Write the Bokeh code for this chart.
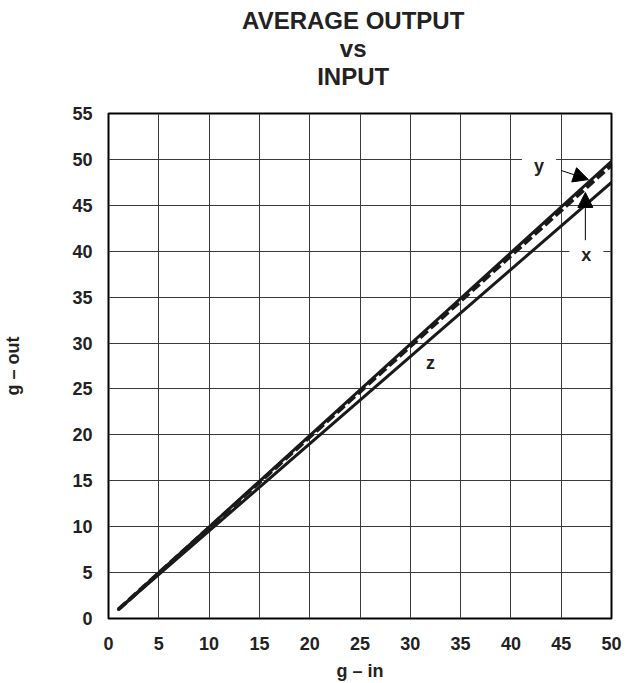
from bokeh.plotting import figure
from bokeh.layouts import column
from bokeh.models import Range1d, Label, Arrow, NormalHead, FixedTicker
from bokeh.core.properties import value
from bokeh.embed import file_html
from bokeh.resources import INLINE

# data (g - in vs g - out)
g_in = [1, 50]
out_x = [1, 49.8]
out_y = [1, 49.4]
out_z = [1, 47.5]
x_ticks = [0, 5, 10, 15, 20, 25, 30, 35, 40, 45, 50]
y_ticks = [0, 5, 10, 15, 20, 25, 30, 35, 40, 45, 50, 55]
title_lines = ["AVERAGE OUTPUT", "vs", "INPUT"]

FONT = "Liberation Sans"
TXT = "#222222"
W = 629
TOP_H = 98

# ---- title strip (pixel coordinates, y downward) ----
t = figure(width=W, height=TOP_H, output_backend="svg", toolbar_location=None,
           x_range=Range1d(0, W), y_range=Range1d(TOP_H, 0),
           x_axis_location=None, y_axis_location=None, min_border=0)
t.grid.visible = False
t.outline_line_color = None
t.background_fill_color = "white"
t.border_fill_color = "white"
t.text(x=[306] * 3, y=[20, 48, 76], text=title_lines, text_font=value(FONT),
       text_font_style="bold", text_font_size="24px", text_color=TXT,
       text_align="center", text_baseline="middle")

# ---- main chart ----
p = figure(width=W, height=683 - TOP_H, output_backend="svg", toolbar_location=None,
           x_range=Range1d(0, 50), y_range=Range1d(0, 55),
           min_border_left=104, min_border_right=18, min_border_top=113 - TOP_H,
           min_border_bottom=64)

p.outline_line_color = "black"
p.outline_line_width = 2
p.background_fill_color = "white"
p.border_fill_color = "white"

for ax in (p.xaxis, p.yaxis):
    ax.axis_line_color = None
    ax.major_tick_line_color = None
    ax.minor_tick_line_color = None
    ax.major_label_text_font = FONT
    ax.major_label_text_font_style = "bold"
    ax.major_label_text_font_size = "18px"
    ax.major_label_text_color = TXT
    ax.axis_label_text_font = FONT
    ax.axis_label_text_font_style = "bold"
    ax.axis_label_text_font_size = "18px"
    ax.axis_label_text_color = TXT
p.xaxis.ticker = FixedTicker(ticks=x_ticks)
p.yaxis.ticker = FixedTicker(ticks=y_ticks)
p.xaxis.major_label_standoff = 12
p.yaxis.major_label_standoff = 10
p.xaxis.axis_label = "g – in"
p.yaxis.axis_label = "g – out"
p.xaxis.axis_label_standoff = 8
p.yaxis.axis_label_standoff = 46

p.xgrid.ticker = FixedTicker(ticks=x_ticks)
p.ygrid.ticker = FixedTicker(ticks=y_ticks)
for g in (p.xgrid, p.ygrid):
    g.grid_line_color = "#3a3a3a"
    g.grid_line_width = 1
    g.grid_line_alpha = 1

p.line(g_in, out_z, line_color="#1a1a1a", line_width=3, line_cap="round")
p.line(g_in, out_x, line_color="#1a1a1a", line_width=3, line_cap="round")
p.line(g_in, out_y, line_color="#1a1a1a", line_width=4, line_dash="10 4")

def lab(text, x, y, bg=None, pad=0):
    kw = {}
    if bg:
        kw = dict(background_fill_color=bg, padding=pad)
    l = Label(x=x, y=y, text=text, text_font=FONT, text_font_style="bold",
              text_font_size="18px", text_color=TXT, text_align="center",
              text_baseline="middle", **kw)
    p.add_layout(l)

# curve labels
lab("y", 42.8, 49.3, bg="white", pad=12)
lab("x", 47.5, 39.6, bg="white", pad=12)
lab("z", 32.0, 27.8)

p.add_layout(Arrow(end=NormalHead(size=15, fill_color="black", line_color="black"),
                   x_start=45.0, y_start=48.8, x_end=47.7, y_end=47.8,
                   line_color="black", line_width=1))
p.add_layout(Arrow(end=NormalHead(size=15, fill_color="black", line_color="black"),
                   x_start=47.4, y_start=41.2, x_end=47.4, y_end=46.4,
                   line_color="black", line_width=1))

layout = column(t, p, spacing=0)
open("out.html", "w").write(file_html(layout, INLINE))
